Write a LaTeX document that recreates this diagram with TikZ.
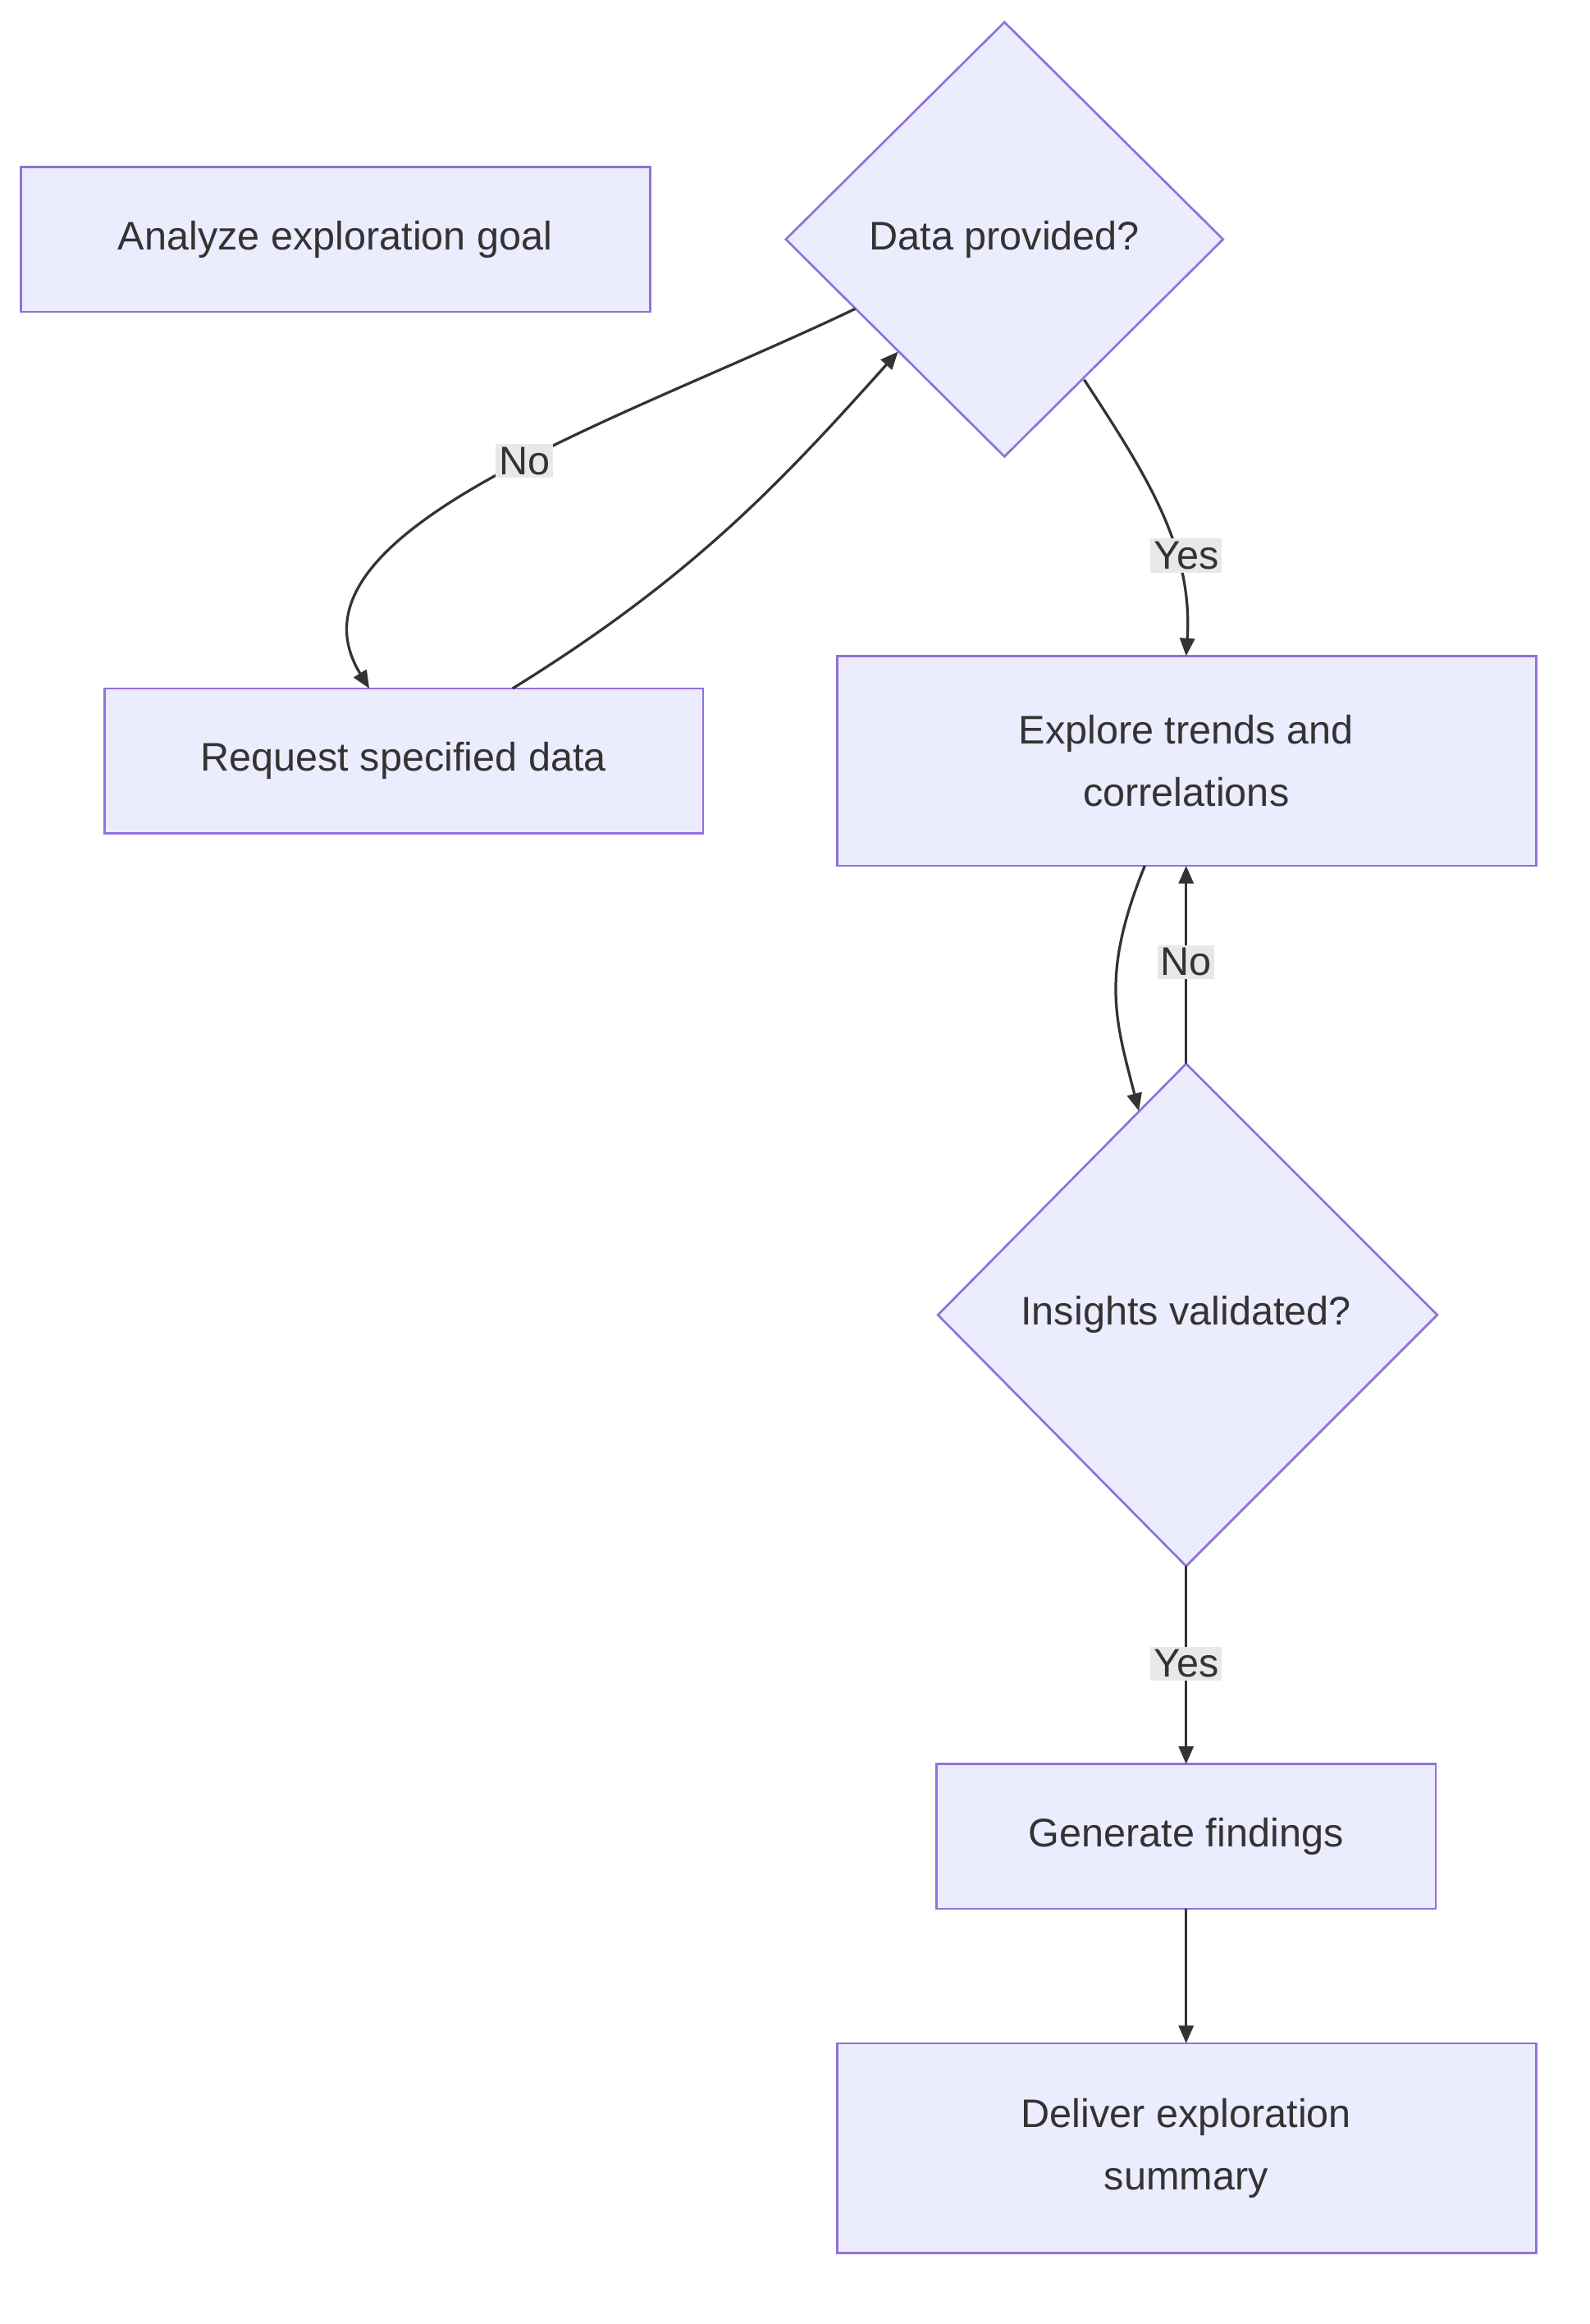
\documentclass[tikz,border=0pt]{standalone}
\usepackage{fontspec}
\setmainfont{Liberation Sans}
\usetikzlibrary{arrows.meta}
\definecolor{nfill}{HTML}{ECECFF}
\definecolor{nstroke}{HTML}{9370DB}
\definecolor{ln}{HTML}{333333}
\definecolor{lbg}{HTML}{E8E8E8}
\begin{document}
\begin{tikzpicture}[x=1pt,y=-1pt,
  box/.style={draw=nstroke,fill=nfill,line width=1.5pt},
  txt/.style={text=ln,font=\fontsize{27}{42}\selectfont,align=center},
  edge/.style={draw=ln,line width=1.8pt,-{Triangle[length=12pt,width=10pt]}},
  lbl/.style={fill=lbg,text=ln,font=\fontsize{27}{32}\selectfont,inner sep=2pt}]
\useasboundingbox (0,0) rectangle (1076,1573);
\draw[box] (14,113) rectangle (440,211);
\node[txt] (a) at (227,162) {Analyze exploration goal};
\draw[box] (680,15) -- (828,162) -- (680,309) -- (532,162) -- cycle;
\node[txt] (d) at (680,162) {Data provided?};
\draw[box] (71,466) rectangle (476,564);
\node[txt] (r) at (273,515) {Request specified data};
\draw[box] (567,444) rectangle (1040,586);
\node[txt] (e) at (803,515) {Explore trends and\\correlations};
\draw[box] (803,720) -- (973,890) -- (803,1060) -- (635,890) -- cycle;
\node[txt] (i) at (803,890) {Insights validated?};
\draw[box] (634,1194) rectangle (972,1292);
\node[txt] (g) at (803,1243) {Generate findings};
\draw[box] (567,1383) rectangle (1040,1525);
\node[txt] (v) at (803,1454) {Deliver exploration\\summary};
\coordinate (d1) at (579,209); \coordinate (r1) at (250,466);
\coordinate (r2) at (347,466); \coordinate (d2) at (608,238);
\coordinate (d3) at (734,257); \coordinate (e1) at (803,444);
\coordinate (e2) at (775,586); \coordinate (i1) at (771,752);
\coordinate (i2) at (803,720); \coordinate (e3) at (803,586);
\coordinate (i3) at (803,1060); \coordinate (g1) at (803,1194);
\coordinate (g2) at (803,1292); \coordinate (v1) at (803,1383);
\draw[edge] (d1) .. controls (420,285) and (185,360) .. (r1);
\draw[edge] (r2) .. controls (470,390) and (530,325) .. (d2);
\draw[edge] (d3) .. controls (775,320) and (808,370) .. (e1);
\draw[edge] (e2) .. controls (745,660) and (755,690) .. (i1);
\draw[edge] (i2) -- (e3);
\draw[edge] (i3) -- (g1);
\draw[edge] (g2) -- (v1);
\node[lbl] (l1) at (355,312) {No};
\node[lbl] (l2) at (803,376) {Yes};
\node[lbl] (l3) at (803,651) {No};
\node[lbl] (l4) at (803,1126) {Yes};
\end{tikzpicture}
\end{document}
